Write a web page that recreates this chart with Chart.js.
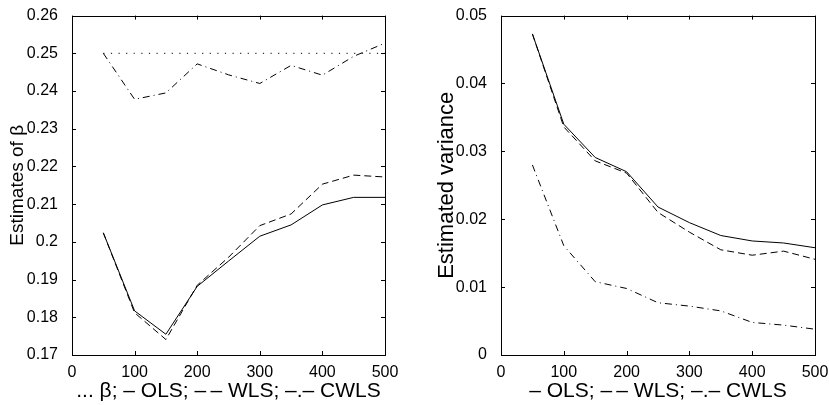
<!DOCTYPE html>
<html>
<head>
<meta charset="utf-8">
<script src="https://cdn.jsdelivr.net/npm/chart.js@4"></script>
<style>
  body { margin: 0; background: #fff; }
  canvas { position: absolute; top: 0; }
  #betaChart { left: 0; }
  #varChart { left: 414px; }
</style>
</head>
<body>
<canvas id="betaChart" width="414" height="405"></canvas>
<canvas id="varChart" width="415" height="405"></canvas>
<script>
// Data
const sampleSizes = [50, 100, 150, 200, 250, 300, 350, 400, 450, 500];

const trueBeta = [0.25, 0.25, 0.25, 0.25, 0.25, 0.25, 0.25, 0.25, 0.25, 0.25];
const betaOLS  = [0.2024, 0.1817, 0.1755, 0.1882, 0.1949, 0.2015, 0.2045, 0.2098, 0.2118, 0.2118];
const betaWLS  = [0.2024, 0.1812, 0.1741, 0.1885, 0.1959, 0.2043, 0.2074, 0.2153, 0.2177, 0.2172];
const betaCWLS = [0.2500, 0.2378, 0.2395, 0.2472, 0.2443, 0.2420, 0.2468, 0.2442, 0.2492, 0.2527];

const varOLS  = [0.0473, 0.0340, 0.0291, 0.0270, 0.0218, 0.0195, 0.0176, 0.0168, 0.0165, 0.0158];
const varWLS  = [0.0473, 0.0336, 0.0286, 0.0268, 0.0210, 0.0181, 0.0155, 0.0147, 0.0153, 0.0141];
const varCWLS = [0.0280, 0.0161, 0.0108, 0.0098, 0.0077, 0.0072, 0.0065, 0.0048, 0.0044, 0.0038];

const betaTicks = [0.17, 0.18, 0.19, 0.2, 0.21, 0.22, 0.23, 0.24, 0.25, 0.26];
const varTicks = [0, 0.01, 0.02, 0.03, 0.04, 0.05];

const FONT = "'Liberation Sans', Arial, sans-serif";
const SOLID = [];
const DASHED = [7, 4];
const DASHDOT = [7, 4, 1, 4];
const DOTTED = [1.2, 6.4];

function series(values, dash) {
  return {
    data: values.map((v, i) => ({ x: sampleSizes[i], y: v })),
    borderColor: "#000",
    borderWidth: 1,
    borderDash: dash,
    pointRadius: 0,
    fill: false,
    tension: 0
  };
}

// Matlab style box with inward tick marks on all four sides
const boxPlugin = {
  id: "box",
  afterDraw(chart) {
    const { ctx, chartArea: a, scales } = chart;
    const len = 4;
    ctx.save();
    ctx.strokeStyle = "#000";
    ctx.lineWidth = 1;
    ctx.strokeRect(Math.round(a.left) + 0.5, Math.round(a.top) + 0.5,
      Math.round(a.right - a.left), Math.round(a.bottom - a.top));
    ctx.beginPath();
    scales.x.ticks.forEach(t => {
      const x = Math.round(scales.x.getPixelForValue(t.value)) + 0.5;
      ctx.moveTo(x, a.bottom); ctx.lineTo(x, a.bottom - len);
      ctx.moveTo(x, a.top); ctx.lineTo(x, a.top + len);
    });
    scales.y.ticks.forEach(t => {
      const y = Math.round(scales.y.getPixelForValue(t.value)) + 0.5;
      ctx.moveTo(a.left, y); ctx.lineTo(a.left + len, y);
      ctx.moveTo(a.right, y); ctx.lineTo(a.right - len, y);
    });
    ctx.stroke();
    ctx.restore();
  }
};

function makeChart(id, datasets, cfg) {
  return new Chart(document.getElementById(id), {
    type: "line",
    data: { datasets: datasets },
    options: {
      responsive: false,
      animation: false,
      devicePixelRatio: 1,
      layout: { padding: { top: 14, right: cfg.padRight, bottom: 0, left: 0 } },
      plugins: { legend: { display: false }, tooltip: { enabled: false } },
      scales: {
        x: {
          type: "linear",
          min: 0,
          max: 500,
          grid: { display: false },
          border: { display: false },
          ticks: { stepSize: 100, padding: 0, color: "#000", font: { family: FONT, size: 16 } },
          title: {
            display: true,
            text: cfg.xTitle,
            color: "#000",
            font: { family: FONT, size: 21 },
            padding: { top: 0, bottom: 1 }
          },
          afterFit: s => { s.height = 50; }
        },
        y: {
          type: "linear",
          min: cfg.ticks[0],
          max: cfg.ticks[cfg.ticks.length - 1],
          afterBuildTicks: s => { s.ticks = cfg.ticks.map(v => ({ value: v })); },
          grid: { display: false },
          border: { display: false },
          ticks: {
            padding: 6,
            color: "#000",
            font: { family: FONT, size: 16 },
            callback: v => String(+v.toFixed(3))
          },
          title: {
            display: true,
            text: cfg.yTitle,
            color: "#000",
            font: { family: FONT, size: cfg.yTitleSize },
            padding: { top: cfg.titlePad, bottom: 0 }
          },
          afterFit: s => { s.width = cfg.yWidth; }
        }
      }
    },
    plugins: [boxPlugin]
  });
}

// Left panel: estimates of beta
makeChart("betaChart", [
  series(trueBeta, DOTTED),
  series(betaOLS, SOLID),
  series(betaWLS, DASHED),
  series(betaCWLS, DASHDOT)
], {
  ticks: betaTicks,
  yTitle: "Estimates of β",
  yTitleSize: 19,
  xTitle: "... β; – OLS; –\u2009– WLS; –.– CWLS",
  yWidth: 72,
  padRight: 29,
  titlePad: 6
});

// Right panel: estimated variance
makeChart("varChart", [
  series(varOLS, SOLID),
  series(varWLS, DASHED),
  series(varCWLS, DASHDOT)
], {
  ticks: varTicks,
  yTitle: "Estimated variance",
  yTitleSize: 22,
  xTitle: "– OLS; –\u2009– WLS; –.– CWLS",
  yWidth: 87,
  padRight: 14,
  titlePad: 20
});
</script>
</body>
</html>
